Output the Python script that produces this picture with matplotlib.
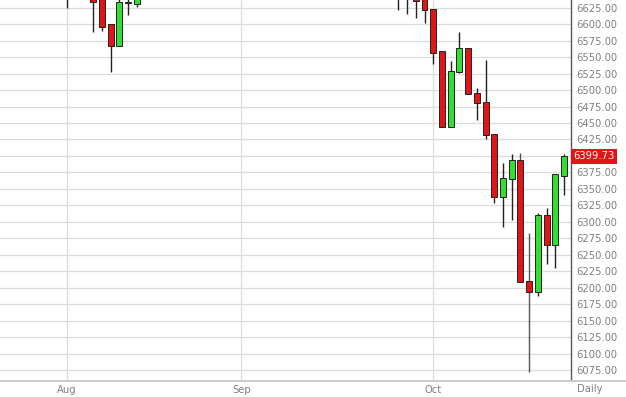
import matplotlib
matplotlib.use("Agg")
import matplotlib.pyplot as plt
import numpy as np

# trading-day index (0 = 1 Aug), candles partly in view only
day = [0, 3, 4, 5, 6, 7, 8,
       38, 39, 40, 41, 42, 43, 44, 45, 46, 47, 48, 49, 50, 51, 52, 53, 54, 55, 56, 57]
opens = [6690, 6680, 6640, 6599, 6567, 6633, 6631,
         6655, 6650, 6645, 6645, 6623, 6559, 6444, 6527, 6563, 6495, 6482, 6433,
         6338, 6365, 6393, 6211, 6194, 6311, 6265, 6370]
highs = [6700, 6690, 6645, 6600, 6640, 6645, 6660,
         6665, 6660, 6655, 6650, 6623, 6559, 6544, 6588, 6563, 6503, 6546, 6433,
         6389, 6403, 6405, 6283, 6314, 6321, 6372, 6403]
lows = [6624, 6588, 6589, 6528, 6566, 6613, 6626,
        6621, 6615, 6609, 6601, 6540, 6444, 6444, 6526, 6494, 6454, 6425, 6328,
        6293, 6303, 6209, 6073, 6188, 6237, 6230, 6341]
closes = [6680, 6633, 6596, 6567, 6633, 6632, 6650,
          6645, 6640, 6635, 6621, 6557, 6444, 6529, 6563, 6494, 6481, 6432, 6338,
          6366, 6393, 6209, 6194, 6311, 6265, 6372, 6399.73]

month_pos = [0, 20, 42]
month_labels = ["Aug", "Sep", "Oct"]
price_ticks = np.arange(6075, 6626, 25)
last_price = 6399.73

fig = plt.figure(figsize=(6.26, 3.97), dpi=100)
ax = fig.add_axes([0, 16 / 397, 571 / 626, 381 / 397])

grid_c = "#dcdcdc"
text_c = "#808080"
red = "#e01515"
green = "#33dd33"

for p in price_ticks:
    ax.axhline(p, color=grid_c, lw=0.9, zorder=0)
for p in month_pos:
    ax.axvline(p, color=grid_c, lw=0.9, zorder=0)

o = np.array(opens, dtype=float)
c = np.array(closes, dtype=float)
up = c >= o
wick_c = ["#555555" if (h - l) > 150 else "#222222" for h, l in zip(highs, lows)]
ax.vlines(day, lows, highs, colors=wick_c, lw=1.0, zorder=2)
ax.bar(day, np.abs(c - o) + 0.6, bottom=np.minimum(o, c) - 0.3, width=0.68,
       color=[green if u else red for u in up], edgecolor="#222222", lw=0.7, zorder=3)

ax.set_xlim(-7.68, 57.8)
ax.set_ylim(6059, 6636.4)

ax.yaxis.tick_right()
ax.set_yticks(price_ticks)
# the last-price box takes the place of the label nearest to it
ax.set_yticklabels(["" if abs(p - last_price) < 12.5 else f"{p:.2f}" for p in price_ticks])
ax.set_xticks(month_pos)
ax.set_xticklabels(month_labels)
ax.tick_params(axis="both", length=0, labelsize=7.2, labelcolor=text_c)
ax.tick_params(axis="y", pad=4)
ax.tick_params(axis="x", pad=3)

for s in ["top", "left", "bottom"]:
    ax.spines[s].set_visible(False)
ax.spines["right"].set_color("#555555")
ax.spines["right"].set_linewidth(1.0)

# bottom rule across the whole figure
fig.add_artist(plt.Line2D([0, 1], [16 / 397, 16 / 397], color="#cccccc", lw=1.5))

ax.text(1.004, last_price, f"{last_price:.2f}", transform=ax.get_yaxis_transform(),
        ha="left", va="center", color="white", fontsize=7.2,
        bbox=dict(boxstyle="square,pad=0.25", fc=red, ec="none"), zorder=5, clip_on=False)
fig.text(590 / 626, 1 - 389 / 397, "Daily", ha="center", va="center",
         fontsize=7.2, color=text_c)

fig.savefig("out.png", dpi=100)
